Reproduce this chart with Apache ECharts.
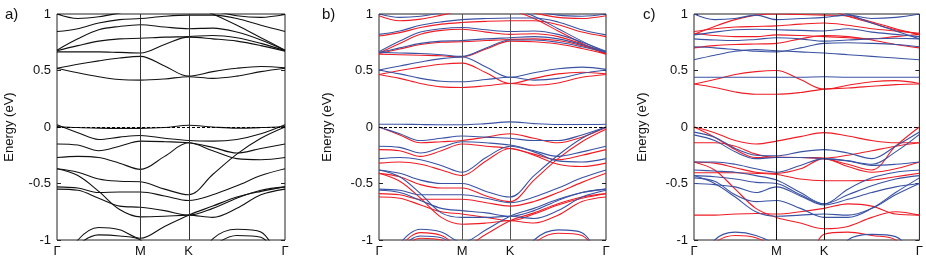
<!DOCTYPE html>
<html><head><meta charset="utf-8">
<script src="https://cdn.jsdelivr.net/npm/echarts@6/dist/echarts.min.js"></script>
<style>html,body{margin:0;padding:0;background:#fff}#c{width:926px;height:258px}</style>
</head><body><div id="c"></div>
<script>
// k-path sample positions (Γ-M = 1, M-K = 0.577, K-Γ = 1.155)
const kPath = [0, 0.25, 0.5, 0.75, 1, 1.289, 1.577, 1.866, 2.155, 2.443, 2.732];
const kTickValues = [0, 1, 1.577, 2.732];
const kTickLabels = ['Γ', 'M', 'K', 'Γ'];
const energyTicks = [-1, -0.5, 0, 0.5, 1];
const panelLabels = ['a)', 'b)', 'c)'];

// ---- panel a (black) ----
const a01 = [0.52, 0.48, 0.445, 0.42, 0.415, 0.425, 0.445, 0.43, 0.45, 0.49, 0.52];
const a02 = [0.52, 0.555, 0.585, 0.61, 0.625, 0.54, 0.45, 0.49, 0.52, 0.535, 0.525];
const a03 = [0.665, 0.665, 0.665, 0.66, 0.655, 0.73, 0.795, 0.78, 0.76, 0.72, 0.67];
const a04 = [0.675, 0.72, 0.76, 0.78, 0.785, 0.795, 0.80, 0.81, 0.79, 0.74, 0.675];
const a05 = [0.68, 0.78, 0.86, 0.89, 0.905, 0.885, 0.87, 0.875, 0.84, 0.77, 0.68];
const a06 = [0.845, 0.87, 0.92, 0.95, 0.96, 0.98, 0.99, 0.99, 0.96, 0.90, 0.845];
const a07 = [1.0, 0.96, 0.975, 1.01, 1.05, 1.08, 1.08, 1.03, 0.985, 0.97, 0.995];
const a08 = [1.2, 1.2, 1.2, 1.2, 1.2, 1.15, 1.08, 1.0, 0.9, 0.79, 0.68];
const a09 = [0.005, -0.005, -0.01, -0.012, -0.012, -0.005, 0.015, 0.0, -0.01, -0.005, 0.005];
const a10 = [0.02, -0.05, -0.11, -0.09, -0.075, -0.1, -0.12, -0.125, -0.11, -0.06, 0.02];
const a11 = [-0.15, -0.16, -0.21, -0.17, -0.125, -0.13, -0.14, -0.18, -0.23, -0.19, -0.15];
const a12 = [-0.27, -0.26, -0.27, -0.32, -0.375, -0.26, -0.14, -0.21, -0.28, -0.29, -0.27];
const a13 = [-0.37, -0.4, -0.46, -0.48, -0.485, -0.55, -0.6, -0.42, -0.24, -0.1, 0.0];
const a14 = [-0.53, -0.54, -0.58, -0.575, -0.575, -0.61, -0.65, -0.6, -0.52, -0.43, -0.37];
const a15 = [-0.55, -0.56, -0.63, -0.7, -0.71, -0.74, -0.78, -0.72, -0.63, -0.56, -0.53];
const a16 = [-0.37, -0.43, -0.57, -0.73, -0.795, -0.79, -0.78, -0.8, -0.72, -0.6, -0.55];
const a17 = [-1.3, -1.0, -0.89, -0.91, -0.985, -0.88, -0.78, -0.7, -0.62, -0.57, -0.53];
const a18 = [-1.3, -1.05, -0.955, -0.965, -1.0, -1.3, -1.3, -1.3, -1.3, -1.3, -1.3];
const a19 = [-1.3, -1.3, -1.3, -1.3, -1.3, -1.3, -1.3, -0.99, -0.905, -0.93, -1.3];
const a20 = [-1.3, -1.3, -1.3, -1.3, -1.3, -1.3, -1.3, -1.06, -0.96, -0.975, -1.3];

// ---- panel b (blue = spin up, red = spin down) ----
const bBlue01 = [0.505, 0.47, 0.43, 0.405, 0.40, 0.42, 0.44, 0.415, 0.43, 0.475, 0.505];
const bBlue02 = [0.505, 0.54, 0.575, 0.605, 0.62, 0.53, 0.44, 0.48, 0.515, 0.53, 0.51];
const bBlue03 = [0.66, 0.655, 0.65, 0.64, 0.625, 0.70, 0.77, 0.77, 0.75, 0.71, 0.66];
const bBlue04 = [0.66, 0.70, 0.74, 0.76, 0.765, 0.78, 0.79, 0.80, 0.78, 0.73, 0.665];
const bBlue05 = [0.665, 0.76, 0.84, 0.87, 0.88, 0.86, 0.845, 0.85, 0.82, 0.75, 0.67];
const bBlue06 = [0.82, 0.85, 0.90, 0.93, 0.95, 0.96, 0.965, 0.965, 0.93, 0.86, 0.815];
const bBlue07 = [1.0, 0.97, 0.98, 1.01, 1.05, 1.08, 1.08, 1.03, 0.99, 0.98, 1.0];
const bBlue08 = [1.2, 1.2, 1.2, 1.2, 1.2, 1.12, 1.06, 0.98, 0.87, 0.76, 0.66];
const bBlue09 = [0.025, 0.025, 0.022, 0.02, 0.02, 0.03, 0.045, 0.03, 0.022, 0.022, 0.025];
const bBlue10 = [0.0, -0.06, -0.12, -0.1, -0.08, -0.09, -0.1, -0.12, -0.12, -0.07, 0.0];
const bBlue11 = [-0.17, -0.18, -0.23, -0.18, -0.13, -0.14, -0.16, -0.21, -0.26, -0.22, -0.17];
const bBlue12 = [-0.28, -0.27, -0.29, -0.34, -0.4, -0.27, -0.17, -0.22, -0.3, -0.31, -0.28];
const bBlue13 = [-0.38, -0.41, -0.47, -0.5, -0.5, -0.57, -0.62, -0.43, -0.25, -0.1, 0.0];
const bBlue14 = [-0.55, -0.56, -0.6, -0.6, -0.6, -0.63, -0.67, -0.62, -0.54, -0.45, -0.38];
const bBlue15 = [-0.56, -0.58, -0.65, -0.72, -0.74, -0.76, -0.79, -0.74, -0.65, -0.58, -0.55];
const bBlue16 = [-0.38, -0.44, -0.59, -0.76, -0.8, -0.8, -0.79, -0.81, -0.74, -0.62, -0.56];
const bBlue17 = [-1.3, -1.03, -0.905, -0.93, -1.02, -0.91, -0.79, -0.72, -0.64, -0.58, -0.55];
const bBlue18 = [-1.3, -1.08, -0.965, -0.98, -1.1, -1.3, -1.3, -1.3, -1.3, -1.3, -1.3];
const bBlue19 = [-1.3, -1.3, -1.3, -1.3, -1.3, -1.3, -1.3, -1.0, -0.91, -0.935, -1.3];
const bRed01 = [0.465, 0.43, 0.385, 0.355, 0.35, 0.365, 0.385, 0.37, 0.39, 0.44, 0.465];
const bRed02 = [0.465, 0.5, 0.53, 0.555, 0.565, 0.48, 0.385, 0.43, 0.47, 0.485, 0.47];
const bRed03 = [0.645, 0.64, 0.635, 0.63, 0.62, 0.69, 0.76, 0.755, 0.735, 0.695, 0.645];
const bRed04 = [0.65, 0.69, 0.73, 0.75, 0.755, 0.765, 0.775, 0.78, 0.765, 0.72, 0.65];
const bRed05 = [0.655, 0.74, 0.82, 0.855, 0.865, 0.84, 0.82, 0.825, 0.8, 0.735, 0.655];
const bRed06 = [0.805, 0.835, 0.88, 0.91, 0.925, 0.935, 0.94, 0.94, 0.905, 0.84, 0.8];
const bRed07 = [0.985, 0.94, 0.955, 0.99, 1.03, 1.06, 1.06, 1.01, 0.97, 0.96, 0.985];
const bRed08 = [1.2, 1.2, 1.2, 1.2, 1.2, 1.1, 1.04, 0.96, 0.85, 0.74, 0.645];
const bRed10 = [0.0, -0.07, -0.14, -0.13, -0.12, -0.09, -0.06, -0.1, -0.14, -0.09, -0.005];
const bRed11 = [-0.2, -0.21, -0.26, -0.21, -0.15, -0.17, -0.19, -0.24, -0.29, -0.25, -0.2];
const bRed12 = [-0.32, -0.31, -0.33, -0.38, -0.43, -0.3, -0.19, -0.25, -0.33, -0.35, -0.32];
const bRed13 = [-0.41, -0.44, -0.51, -0.54, -0.54, -0.61, -0.66, -0.47, -0.28, -0.13, -0.02];
const bRed14 = [-0.59, -0.6, -0.64, -0.64, -0.64, -0.67, -0.7, -0.66, -0.58, -0.49, -0.41];
const bRed15 = [-0.62, -0.63, -0.69, -0.75, -0.77, -0.8, -0.83, -0.77, -0.69, -0.63, -0.59];
const bRed16 = [-0.41, -0.48, -0.63, -0.8, -0.86, -0.85, -0.83, -0.85, -0.78, -0.66, -0.62];
const bRed17 = [-1.3, -1.06, -0.935, -0.96, -1.06, -0.95, -0.83, -0.76, -0.68, -0.62, -0.59];
const bRed18 = [-1.3, -1.1, -0.985, -1.0, -1.1, -1.3, -1.3, -1.3, -1.3, -1.3, -1.3];
const bRed19 = [-1.3, -1.3, -1.3, -1.3, -1.3, -1.3, -1.3, -1.03, -0.94, -0.96, -1.3];

// ---- panel c (blue = spin up, red = spin down) ----
const cBlue01 = [0.44, 0.44, 0.44, 0.44, 0.44, 0.44, 0.445, 0.44, 0.44, 0.44, 0.44];
const cBlue02 = [0.595, 0.635, 0.67, 0.685, 0.675, 0.665, 0.655, 0.64, 0.625, 0.61, 0.595];
const cBlue03 = [0.71, 0.7, 0.685, 0.67, 0.665, 0.7, 0.74, 0.745, 0.74, 0.73, 0.71];
const cBlue04 = [0.78, 0.77, 0.765, 0.775, 0.79, 0.78, 0.76, 0.77, 0.78, 0.785, 0.78];
const cBlue05 = [0.815, 0.84, 0.86, 0.865, 0.86, 0.855, 0.85, 0.87, 0.84, 0.82, 0.8];
const cBlue06 = [1.0, 0.95, 0.96, 0.99, 0.95, 0.96, 0.97, 0.99, 0.96, 0.97, 1.0];
const cBlue07 = [1.2, 1.2, 1.2, 1.2, 1.2, 1.15, 1.08, 1.0, 0.92, 0.85, 0.78];
const cBlue08 = [-0.045, -0.09, -0.19, -0.25, -0.255, -0.22, -0.2, -0.23, -0.28, -0.17, -0.045];
const cBlue09 = [-0.07, -0.12, -0.22, -0.28, -0.27, -0.27, -0.28, -0.3, -0.33, -0.22, -0.065];
const cBlue10 = [-0.31, -0.31, -0.33, -0.37, -0.4, -0.34, -0.28, -0.3, -0.34, -0.33, -0.31];
const cBlue11 = [-0.38, -0.39, -0.4, -0.43, -0.47, -0.58, -0.68, -0.55, -0.45, -0.4, -0.38];
const cBlue12 = [-0.43, -0.44, -0.46, -0.49, -0.5, -0.6, -0.68, -0.6, -0.52, -0.46, -0.43];
const cBlue13 = [-0.5, -0.51, -0.53, -0.58, -0.53, -0.61, -0.69, -0.64, -0.58, -0.53, -0.5];
const cBlue14 = [-0.43, -0.5, -0.62, -0.75, -0.79, -0.78, -0.77, -0.78, -0.72, -0.6, -0.5];
const cBlue15 = [-0.45, -0.48, -0.6, -0.66, -0.65, -0.72, -0.8, -0.8, -0.72, -0.58, -0.45];
const cBlue16 = [-1.3, -1.0, -0.93, -0.96, -1.05, -1.3, -1.3, -1.3, -1.3, -1.3, -1.3];
const cBlue17 = [-1.3, -1.3, -1.3, -1.3, -1.3, -1.3, -1.3, -1.0, -0.95, -0.97, -1.2];
const cRed01 = [0.38, 0.35, 0.31, 0.29, 0.29, 0.305, 0.335, 0.345, 0.36, 0.375, 0.38];
const cRed02 = [0.38, 0.42, 0.465, 0.49, 0.5, 0.42, 0.335, 0.37, 0.4, 0.41, 0.385];
const cRed03 = [0.7, 0.72, 0.73, 0.735, 0.74, 0.78, 0.81, 0.8, 0.77, 0.73, 0.7];
const cRed04 = [0.83, 0.81, 0.8, 0.8, 0.815, 0.81, 0.8, 0.79, 0.78, 0.8, 0.82];
const cRed05 = [0.845, 0.87, 0.885, 0.89, 0.895, 0.91, 0.92, 0.9, 0.87, 0.85, 0.83];
const cRed06 = [0.82, 0.89, 0.95, 0.99, 1.0, 0.995, 0.99, 0.98, 0.93, 0.87, 0.82];
const cRed07 = [1.2, 1.2, 1.2, 1.2, 1.2, 1.12, 1.05, 0.98, 0.92, 0.86, 0.82];
const cRed08 = [0.0, -0.05, -0.12, -0.15, -0.125, -0.085, -0.05, -0.08, -0.12, -0.14, -0.14];
const cRed09 = [0.0, -0.09, -0.2, -0.27, -0.265, -0.27, -0.28, -0.33, -0.38, -0.17, 0.0];
const cRed10 = [-0.14, -0.14, -0.17, -0.24, -0.27, -0.27, -0.275, -0.25, -0.21, -0.17, -0.14];
const cRed11 = [-0.405, -0.405, -0.405, -0.41, -0.42, -0.46, -0.475, -0.475, -0.47, -0.44, -0.41];
const cRed12 = [-0.31, -0.32, -0.36, -0.4, -0.41, -0.37, -0.28, -0.35, -0.4, -0.37, -0.31];
const cRed13 = [-0.31, -0.38, -0.55, -0.72, -0.8, -0.85, -0.9, -0.88, -0.8, -0.75, -0.78];
const cRed14 = [-0.78, -0.78, -0.77, -0.765, -0.77, -0.75, -0.72, -0.68, -0.7, -0.77, -0.78];
const cRed15 = [-1.3, -1.03, -0.96, -0.98, -1.08, -1.3, -1.3, -1.3, -1.3, -1.3, -1.3];
const cRed16 = [-1.3, -1.3, -1.3, -1.3, -1.3, -1.3, -0.95, -0.93, -0.96, -1.0, -1.3];

const panelABands = [a01,a02,a03,a04,a05,a06,a07,a08,a09,a10,a11,a12,a13,a14,a15,a16,a17,a18,a19,a20];
const panelBBlue = [bBlue01,bBlue02,bBlue03,bBlue04,bBlue05,bBlue06,bBlue07,bBlue08,bBlue09,bBlue10,bBlue11,bBlue12,bBlue13,bBlue14,bBlue15,bBlue16,bBlue17,bBlue18,bBlue19];
const panelBRed = [bRed01,bRed02,bRed03,bRed04,bRed05,bRed06,bRed07,bRed08,bRed10,bRed11,bRed12,bRed13,bRed14,bRed15,bRed16,bRed17,bRed18,bRed19];
const panelCBlue = [cBlue01,cBlue02,cBlue03,cBlue04,cBlue05,cBlue06,cBlue07,cBlue08,cBlue09,cBlue10,cBlue11,cBlue12,cBlue13,cBlue14,cBlue15,cBlue16,cBlue17];
const panelCRed = [cRed01,cRed02,cRed03,cRed04,cRed05,cRed06,cRed07,cRed08,cRed09,cRed10,cRed11,cRed12,cRed13,cRed14,cRed15,cRed16];

const FONT = 'Liberation Sans, Arial, sans-serif';
const BLACK = '#111111', RED = '#ee1d25', BLUE = '#3a52a3';
const gridBoxes = [
  {left: 57, top: 14, width: 228, height: 226},
  {left: 379, top: 14, width: 227, height: 226},
  {left: 694, top: 14, width: 227, height: 226}
];
const labelLefts = [0, 317, 638];
const nameGaps = [41, 45, 45];
const guideColors = ['#333', '#555', '#111'];

const chart = echarts.init(document.getElementById('c'), null, {renderer: 'canvas'});
const grids = [], xAxes = [], yAxes = [], series = [], titles = [];

gridBoxes.forEach((g, i) => {
  grids.push(Object.assign({show: true, borderColor: '#222', borderWidth: 1, backgroundColor: 'transparent'}, g));
  xAxes.push({
    type: 'value', gridIndex: i, min: 0, max: kPath[kPath.length - 1],
    axisLine: {show: false}, axisTick: {show: false}, splitLine: {show: false},
    axisLabel: {
      customValues: kTickValues, margin: 5, color: '#111', fontSize: 13, fontFamily: FONT,
      formatter: v => { let best = 0; kTickValues.forEach((t, j) => { if (Math.abs(t - v) < Math.abs(kTickValues[best] - v)) best = j; }); return kTickLabels[best]; }
    }
  });
  yAxes.push({
    type: 'value', gridIndex: i, min: -1, max: 1, interval: 0.5, position: 'left',
    name: 'Energy (eV)', nameLocation: 'middle', nameGap: nameGaps[i],
    nameTextStyle: {fontSize: 13, color: '#111', fontFamily: FONT},
    axisLine: {show: false}, splitLine: {show: false},
    axisTick: {show: true, inside: true, length: 4, lineStyle: {color: '#222'}},
    axisLabel: {color: '#111', fontSize: 13, fontFamily: FONT, margin: 6}
  });
  yAxes.push({
    type: 'value', gridIndex: i, min: -1, max: 1, interval: 0.5, position: 'right',
    axisLine: {show: false}, splitLine: {show: false}, axisLabel: {show: false},
    axisTick: {show: true, inside: true, length: 4, lineStyle: {color: '#222'}}
  });
  titles.push({text: panelLabels[i], left: labelLefts[i], top: 2, textStyle: {fontSize: 15, fontWeight: 'normal', color: '#111', fontFamily: FONT}});
  series.push({
    type: 'line', xAxisIndex: i, yAxisIndex: i * 2, data: [], silent: true,
    markLine: {
      silent: true, symbol: ['none', 'none'], label: {show: false}, animation: false,
      data: [
        {xAxis: kTickValues[1], lineStyle: {color: guideColors[i], width: 1, type: 'solid'}},
        {xAxis: kTickValues[2], lineStyle: {color: guideColors[i], width: 1, type: 'solid'}},
        {yAxis: 0, lineStyle: {color: '#000', width: 1, type: [3, 2]}}
      ]
    }
  });
});

function addBand(band, color, gi) {
  series.push({
    type: 'line', xAxisIndex: gi, yAxisIndex: gi * 2,
    data: kPath.map((k, j) => [k, band[j]]),
    smooth: 0.35, symbol: 'none', showSymbol: false, silent: true, clip: true,
    lineStyle: {color: color, width: 1.1}, animation: false
  });
}
panelABands.forEach(b => addBand(b, BLACK, 0));
panelBRed.forEach(b => addBand(b, RED, 1));
panelBBlue.forEach(b => addBand(b, BLUE, 1));
panelCRed.forEach(b => addBand(b, RED, 2));
panelCBlue.forEach(b => addBand(b, BLUE, 2));

chart.setOption({
  animation: false,
  title: titles, grid: grids, xAxis: xAxes, yAxis: yAxes, series: series
});
</script>
</body></html>
